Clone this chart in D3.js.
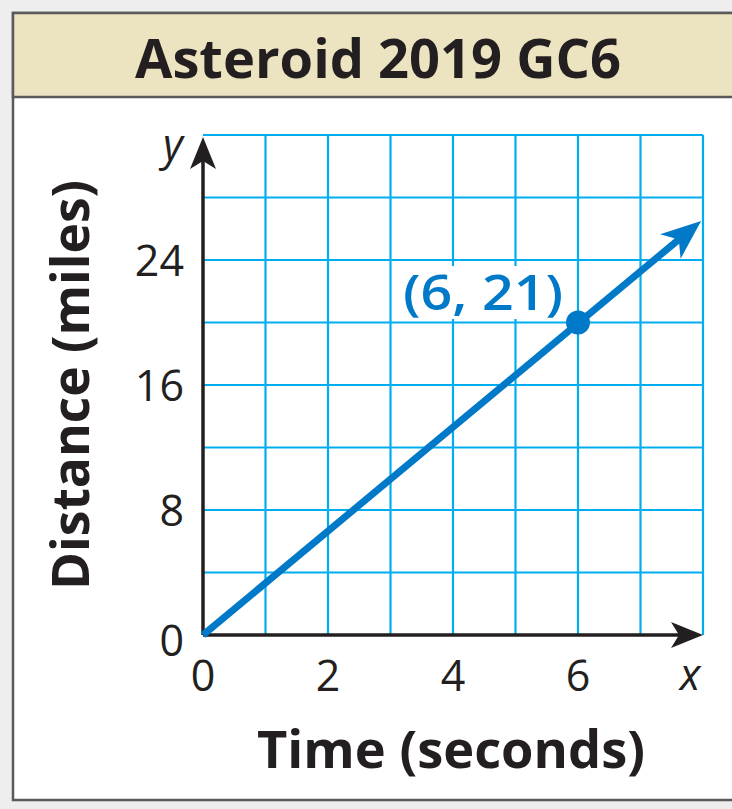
<!DOCTYPE html>
<html><head><meta charset="utf-8">
<script src="https://cdn.jsdelivr.net/npm/d3@7"></script>
<style>html,body{margin:0;padding:0;background:#eeeeee;}svg{display:block;}</style>
</head><body>
<script>
const titleText = "Asteroid 2019 GC6";
const xLabel = "Time (seconds)";
const yLabel = "Distance (miles)";
const xTicks = [0, 2, 4, 6];
const yTicks = [0, 8, 16, 24];
const xGrid = [1, 2, 3, 4, 5, 6, 7, 8];
const yGrid = [4, 8, 12, 16, 20, 24, 28, 32];
const linePoints = [[0, 0], [7.97, 26.5]];
const markedPoint = [6, 20];
const markedLabel = "(6, 21)";

const W = 732, H = 809;
const svg = d3.select("body").append("svg").attr("width", W).attr("height", H);
const font = "'Open Sans', 'Noto Sans', sans-serif";

// outer panel
svg.append("rect").attr("x", 0).attr("y", 0).attr("width", W).attr("height", H).attr("fill", "#eeeeee");
svg.append("rect").attr("x", 13).attr("y", 13).attr("width", 740).attr("height", 787)
  .attr("fill", "#ffffff").attr("stroke", "#5a5a5a").attr("stroke-width", 2.5);
svg.append("rect").attr("x", 13).attr("y", 13).attr("width", 740).attr("height", 84)
  .attr("fill", "#ece3c0").attr("stroke", "#5a5a5a").attr("stroke-width", 2.5);
svg.append("text").attr("x", 378).attr("y", 78).attr("text-anchor", "middle")
  .attr("font-family", font).attr("font-weight", 700).attr("font-size", 54)
  .attr("fill", "#231f20").attr("textLength", 486).attr("lengthAdjust", "spacingAndGlyphs")
  .text(titleText);

const x = d3.scaleLinear().domain([0, 8]).range([203, 703]);
const y = d3.scaleLinear().domain([0, 32]).range([635, 135]);

// grid
const grid = svg.append("g").attr("stroke", "#00aeef").attr("stroke-width", 2.2);
grid.selectAll(".gx").data(xGrid).join("line")
  .attr("x1", d => x(d)).attr("x2", d => x(d)).attr("y1", y(0)).attr("y2", y(32));
grid.selectAll(".gy").data(yGrid).join("line")
  .attr("x1", x(0)).attr("x2", x(8)).attr("y1", d => y(d)).attr("y2", d => y(d));

// axes with arrows
const axisColor = "#231f20";
svg.append("line").attr("x1", x(0)).attr("x2", x(8) - 12).attr("y1", y(0)).attr("y2", y(0))
  .attr("stroke", axisColor).attr("stroke-width", 3.5);
svg.append("line").attr("x1", x(0)).attr("x2", x(0)).attr("y1", y(0)).attr("y2", y(32) + 12)
  .attr("stroke", axisColor).attr("stroke-width", 3.5);
function arrowHead(tx, ty, angle, color, len, half, notch) {
  const p = `M0,0 L${-len},${-half} L${-len + notch},0 L${-len},${half} Z`;
  svg.append("path").attr("d", p).attr("fill", color)
    .attr("transform", `translate(${tx},${ty}) rotate(${angle})`);
}
arrowHead(x(8), y(0), 0, axisColor, 32, 13, 8);
arrowHead(x(0), y(32) + 2, -90, axisColor, 32, 13, 8);

// tick labels
const tl = svg.append("g").attr("font-family", font).attr("font-size", 43).attr("fill", axisColor);
tl.selectAll(".xt").data(xTicks).join("text")
  .attr("x", d => x(d)).attr("y", 691).attr("text-anchor", "middle").text(d => d);
tl.selectAll(".yt").data(yTicks).join("text")
  .attr("x", 184).attr("y", d => y(d) + (d === 0 ? 21 : 16)).attr("text-anchor", "end").text(d => d);
tl.append("text").attr("x", 690).attr("y", 690).attr("text-anchor", "middle")
  .attr("font-style", "italic").text("x");
tl.append("text").attr("x", 173).attr("y", 160).attr("text-anchor", "middle")
  .attr("font-style", "italic").text("y");

// axis titles
svg.append("text").attr("x", 451).attr("y", 768).attr("text-anchor", "middle")
  .attr("font-family", font).attr("font-weight", 700).attr("font-size", 52).attr("fill", axisColor)
  .attr("textLength", 388).attr("lengthAdjust", "spacingAndGlyphs").text(xLabel);
svg.append("text").attr("transform", "translate(89,385) rotate(-90)").attr("text-anchor", "middle")
  .attr("font-family", font).attr("font-weight", 700).attr("font-size", 52).attr("fill", axisColor)
  .attr("textLength", 410).attr("lengthAdjust", "spacingAndGlyphs").text(yLabel);

// data line
const blue = "#0079c8";
const [p0, p1] = linePoints;
const ang = Math.atan2(y(p1[1]) - y(p0[1]), x(p1[0]) - x(p0[0])) * 180 / Math.PI;
const shorten = 20;
const dx = Math.cos(ang * Math.PI / 180) * shorten, dy = Math.sin(ang * Math.PI / 180) * shorten;
svg.append("line").attr("x1", x(p0[0])).attr("y1", y(p0[1]))
  .attr("x2", x(p1[0]) - dx).attr("y2", y(p1[1]) - dy)
  .attr("stroke", blue).attr("stroke-width", 7);
arrowHead(x(p1[0]), y(p1[1]), ang, blue, 40, 16, 11);

// label background and label
svg.append("rect").attr("x", 397).attr("y", 266).attr("width", 172).attr("height", 53).attr("fill", "#ffffff");
svg.append("text").attr("x", 483).attr("y", 310).attr("text-anchor", "middle")
  .attr("font-family", font).attr("font-weight", 600).attr("font-size", 48).attr("fill", blue)
  .attr("textLength", 160).attr("lengthAdjust", "spacingAndGlyphs").text(markedLabel);
svg.append("circle").attr("cx", x(markedPoint[0])).attr("cy", y(markedPoint[1])).attr("r", 12).attr("fill", blue);
</script>
</body></html>
